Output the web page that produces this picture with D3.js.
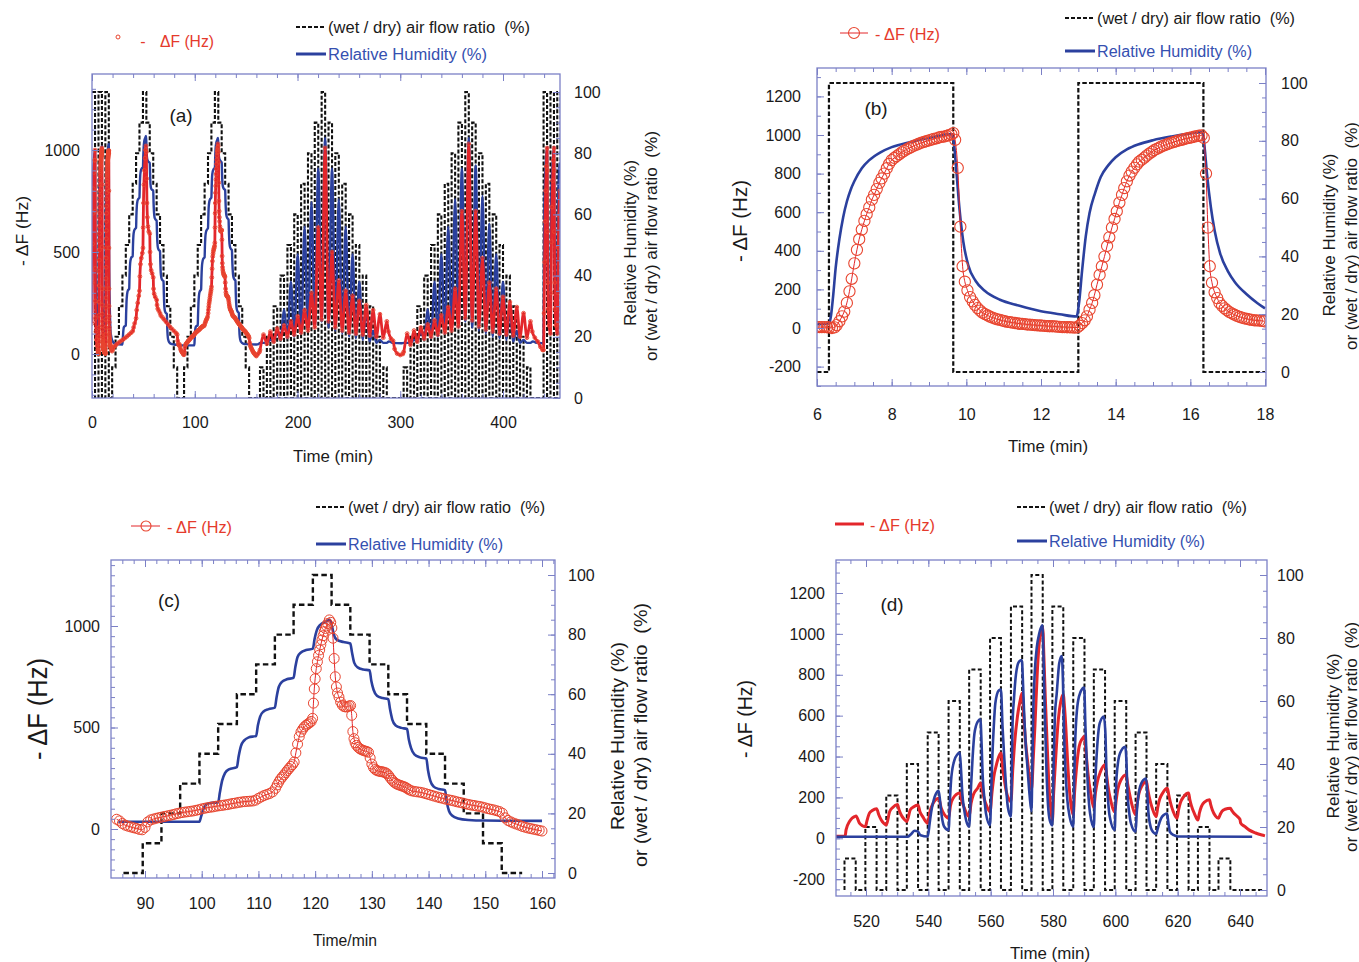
<!DOCTYPE html>
<html><head><meta charset="utf-8">
<script src="https://cdn.jsdelivr.net/npm/d3@7"></script>
<style>
body{margin:0;background:#fff;}
svg text{font-family:"Liberation Sans",Arial,sans-serif;}
</style></head><body>
<svg id="chart" width="1359" height="962"></svg>
<script>
// ===================== DATA =====================
// shared tick labels
const rightTicks = [0,20,40,60,80,100];
const xTicksA = [0,100,200,300,400];
const xTicksB = [6,8,10,12,14,16,18];
const xTicksC = [90,100,110,120,130,140,150,160];
const xTicksD = [520,540,560,580,600,620,640];
const yTicksA = [0,500,1000];
const yTicksB = [-200,0,200,400,600,800,1000,1200];
const yTicksC = [0,500,1000];
const yTicksD = [-200,0,200,400,600,800,1000,1200];

// pulse levels (wet/dry air flow ratio, %) used in pulse trains
const pulseLevels = [10,20,30,40,50,60,70,80,90,100,90,80,70,60,50,40,30,20,10];

// ---------- panel (b) ----------
const flowB_t = [6.0, 6.32, 9.65, 13.0, 16.35, 18.0];
const flowB_v = [0, 100, 0, 100, 0, 0];
const rhB = [[6.0,16.5],[6.33,16.8],[6.38,20],[6.43,26],[6.5,36],[6.6,46],[6.7,53.5],[6.8,59],[6.9,63],[7.0,66],[7.2,70.5],[7.4,73.3],[7.7,76],[8.0,77.8],[8.5,79.6],[9.0,81],[9.6,82.3],[9.66,80],[9.73,70],[9.82,56],[9.92,45],[10.05,37],[10.25,31.5],[10.5,28],[10.9,25],[11.4,23],[12.0,21],[12.5,20],[12.95,19.2],[13.02,24],[13.1,35],[13.2,47],[13.3,55],[13.45,62],[13.6,67.5],[13.8,71.5],[14.0,74.3],[14.3,77],[14.6,78.7],[15.0,80.2],[15.5,81.5],[16.0,82.5],[16.33,83],[16.38,78],[16.45,68],[16.55,57],[16.65,49],[16.8,41],[17.0,35],[17.2,31],[17.5,27],[17.8,23.8],[18.0,22]];
const dfB = [[6.0,5],[6.07,5],[6.13,5],[6.2,5],[6.27,4],[6.33,3],[6.4,0],[6.47,3],[6.53,15],[6.6,35],[6.67,60],[6.73,85],[6.8,130],[6.87,190],[6.93,255],[7.0,335],[7.07,405],[7.13,460],[7.2,510],[7.27,555],[7.33,590],[7.4,625],[7.47,665],[7.53,690],[7.6,720],[7.67,752],[7.73,775],[7.8,800],[7.87,828],[7.93,850],[8.0,870],[8.07,881],[8.13,890],[8.2,900],[8.27,910],[8.33,918],[8.4,925],[8.47,932],[8.53,938],[8.6,945],[8.67,950],[8.73,955],[8.8,960],[8.87,964],[8.93,968],[9.0,972],[9.07,976],[9.13,980],[9.2,983],[9.27,987],[9.33,990],[9.4,992],[9.47,995],[9.53,999],[9.6,1003],[9.65,1010],[9.7,975],[9.77,830],[9.84,525],[9.9,320],[9.96,240],[10.03,195],[10.1,160],[10.17,138],[10.23,120],[10.3,103],[10.37,90],[10.43,80],[10.5,72],[10.57,65],[10.63,59],[10.7,54],[10.77,49],[10.83,45],[10.9,42],[10.97,38],[11.03,35],[11.1,32],[11.17,30],[11.23,28],[11.3,26],[11.37,24],[11.43,22],[11.5,21],[11.57,20],[11.63,18],[11.7,17],[11.77,16],[11.83,15],[11.9,14],[11.97,13],[12.03,12],[12.1,11],[12.17,10],[12.23,9],[12.3,9],[12.37,8],[12.43,7],[12.5,6],[12.57,5],[12.63,5],[12.7,4],[12.77,4],[12.83,3],[12.9,2],[12.97,3],[13.03,12],[13.1,25],[13.17,40],[13.23,60],[13.3,95],[13.37,130],[13.43,170],[13.5,225],[13.57,275],[13.63,320],[13.7,370],[13.77,425],[13.83,470],[13.9,520],[13.97,565],[14.03,605],[14.1,650],[14.17,690],[14.23,725],[14.3,760],[14.37,790],[14.43,810],[14.5,830],[14.57,848],[14.63,862],[14.7,872],[14.77,883],[14.83,893],[14.9,903],[14.97,913],[15.03,921],[15.1,928],[15.17,935],[15.23,941],[15.3,946],[15.37,951],[15.43,956],[15.5,960],[15.57,964],[15.63,968],[15.7,972],[15.77,975],[15.83,979],[15.9,982],[15.97,985],[16.03,988],[16.1,991],[16.17,994],[16.23,996],[16.3,998],[16.36,985],[16.42,800],[16.47,520],[16.52,320],[16.58,235],[16.65,185],[16.72,155],[16.78,130],[16.85,115],[16.92,102],[16.98,92],[17.05,82],[17.12,75],[17.18,69],[17.25,63],[17.32,58],[17.38,54],[17.45,50],[17.52,47],[17.58,44],[17.65,42],[17.72,40],[17.78,39],[17.85,38],[17.92,37],[17.98,35]];

// ---------- panel (c) ----------
const flowC_t = [86.2,89.6,92.9,96.2,99.6,102.9,106.2,109.6,112.9,116.2,119.6,122.9,126.2,129.6,132.9,136.2,139.6,142.9,146.2,149.6,152.9,156.5];
const flowC_v = [0,10,20,30,40,50,60,70,80,90,100,90,80,70,60,50,40,30,20,10,0,0];
const rhC = [[85.3,17.2],[99.6,17.2],[99.9,19],[100.3,21.5],[100.8,23],[101.5,23.5],[102.9,23.7],[103.2,27],[103.6,31],[104.1,33.5],[104.8,34.8],[106.2,35.5],[106.5,39],[106.9,42.5],[107.5,44.5],[108.3,45.5],[109.6,46],[109.9,49.5],[110.3,52.5],[110.9,54.2],[111.8,55],[112.9,55.5],[113.2,59],[113.6,62.5],[114.2,64.2],[115,65],[116.2,65.5],[116.5,69],[116.9,72.5],[117.5,74],[118.4,74.8],[119.6,75.3],[119.9,78.5],[120.3,81.5],[120.9,83.3],[121.8,84.3],[122.6,85],[122.95,83],[123.3,80],[123.8,78.3],[125,77.5],[126.2,77],[126.5,74],[126.9,70.5],[127.5,69],[128.5,68.3],[129.6,68],[129.9,64.5],[130.3,61.5],[130.9,59.5],[131.9,58.7],[132.9,58.3],[133.2,55],[133.6,51.5],[134.2,49.5],[135.2,48.7],[136.2,48.3],[136.5,45],[136.9,42],[137.5,39.8],[138.5,38.8],[139.6,38.4],[139.9,34.5],[140.3,31],[140.9,29],[141.8,28.2],[142.9,27.8],[143.2,24],[143.6,20.8],[144.2,19.2],[145.2,18.3],[147,17.8],[150,17.6],[160,17.5]];
const dfC = [[85.0,48],[85.5,40],[86.0,27],[86.5,19],[87.0,14],[87.5,10],[88.0,6],[88.5,3],[89.0,-2],[89.5,-4],[90.0,8],[90.5,35],[91.0,45],[91.5,49],[92.0,53],[92.5,56],[93.0,59],[93.5,62],[94.0,65],[94.5,68],[95.0,71],[95.5,75],[96.0,78],[96.5,81],[97.0,83],[97.5,85],[98.0,87],[98.5,89],[99.0,92],[99.5,95],[100.0,99],[100.5,102],[101.0,105],[101.5,107],[102.0,109],[102.5,112],[103.0,114],[103.5,116],[104.0,118],[104.5,120],[105.0,123],[105.5,126],[106.0,128],[106.5,131],[107.0,133],[107.5,135],[108.0,136],[108.5,137],[109.0,138],[109.5,142],[110.0,151],[110.5,158],[111.0,165],[111.5,170],[112.0,175],[112.5,183],[113.0,200],[113.3,217],[113.6,232],[113.9,246],[114.2,256],[114.5,266],[114.8,277],[115.1,288],[115.4,298],[115.7,308],[116.0,317],[116.3,330],[116.6,375],[116.9,418],[117.2,455],[117.5,478],[117.8,492],[118.1,503],[118.4,511],[118.7,517],[119.0,523],[119.3,530],[119.55,545],[119.7,620],[119.85,690],[120.0,740],[120.2,790],[120.4,824],[120.6,855],[120.8,882],[121.0,908],[121.2,931],[121.4,952],[121.6,972],[121.8,988],[122.0,1000],[122.2,1012],[122.5,1030],[122.75,1018],[122.95,990],[123.15,940],[123.35,840],[123.55,750],[123.75,700],[123.95,670],[124.2,650],[124.5,625],[124.8,610],[125.1,603],[125.4,601],[125.7,602],[126.0,606],[126.25,608],[126.45,560],[126.65,480],[126.85,445],[127.05,425],[127.3,412],[127.6,402],[127.9,395],[128.2,390],[128.5,387],[128.8,384],[129.1,382],[129.4,378],[129.7,350],[130.0,320],[130.3,302],[130.6,293],[130.9,288],[131.2,285],[131.5,283],[131.8,282],[132.1,280],[132.4,277],[132.7,272],[133.0,262],[133.3,250],[133.6,240],[133.9,231],[134.2,225],[134.5,220],[134.8,217],[135.1,214],[135.4,211],[135.7,208],[136.0,204],[136.3,198],[136.6,193],[137.0,188],[137.5,185],[138.0,183],[138.5,181],[139.0,178],[139.5,174],[140.0,170],[140.5,166],[141.0,162],[141.5,158],[142.0,154],[142.5,151],[143.0,147],[143.5,144],[144.0,141],[144.5,138],[145.0,134],[145.5,131],[146.0,128],[146.5,124],[147.0,121],[147.5,118],[148.0,116],[148.5,113],[149.0,111],[149.5,108],[150.0,104],[150.5,100],[151.0,97],[151.5,94],[152.0,90],[152.5,86],[153.0,78],[153.5,55],[154.0,42],[154.5,35],[155.0,29],[155.5,24],[156.0,19],[156.5,13],[157.0,9],[157.5,5],[158.0,2],[158.5,-1],[159.0,-4],[159.5,-7],[160.0,-10]];

// ---------- panel (d) ----------
const pulseStartD = [513.1,519.8,526.5,533.1,539.8,546.5,553.1,559.8,566.5,573.1,579.8,586.5,593.1,599.8,606.5,613.1,619.8,626.5,633.1];
const pulseEndD = [516.7,523.4,530.1,536.7,543.3,550.1,556.8,563.3,570.1,576.7,583.3,590.1,596.7,603.5,610.0,616.7,623.5,630.2,636.9];
const flowEndD = 647.4;
const rhD = [[510.5,16.9],[533.3,16.9],[534.5,17.8],[535.6,18.8],[536.6,18.6],[537.5,17.4],[539.8,17.0],[540.4,21],[540.9,24.7],[541.7,28.5],[542.5,30.7],[543.3,31.5],[543.8,28],[544.3,23.5],[545.1,20.1],[546.5,19],[547.0,30],[547.4,36],[548.4,41.3],[549.3,43],[550.1,43.6],[550.5,38],[550.9,30.7],[551.5,25.5],[552.1,22.2],[553.1,20.1],[553.7,32.8],[554.2,42],[554.8,49.7],[555.8,53.4],[556.7,54.2],[557.1,46],[557.4,37],[558,29],[558.5,24.3],[559.8,20.6],[560.2,32],[560.5,41.3],[561,52],[561.5,59.3],[562.6,63.3],[563.3,63.6],[563.8,52],[564.4,41.3],[565,32],[565.5,26.4],[566.5,23.3],[566.8,40],[567.0,51.9],[567.5,61],[568.1,68.3],[569.1,72.5],[570.0,73],[570.4,65],[570.7,57],[571.2,47],[571.8,39],[572.5,30],[573.1,25],[573.4,42],[573.7,58],[574.2,70],[574.8,77],[575.6,81.5],[576.6,84],[577.0,72],[577.4,55],[577.9,38],[578.4,27],[579,22],[579.8,20.5],[580.2,40],[580.6,55],[581.2,62.4],[582,72],[582.8,74.3],[583.2,66],[583.5,51.8],[584,38],[584.6,28.6],[585.4,23],[586.5,20.1],[586.8,35],[587.1,46.6],[588.1,60.3],[589.5,64],[590.0,64.3],[590.4,52],[590.8,41.3],[591.3,31],[591.9,24.3],[593.1,20],[593.5,33],[593.9,41],[595,53],[596.3,55.1],[596.8,50],[597.2,36],[597.7,28],[598.2,23.3],[599.8,19],[600.1,28],[600.4,36],[601.5,43.4],[603.2,45.5],[603.6,40],[603.9,30.7],[604.4,25],[605,21.2],[606.5,18.5],[606.9,25],[607.5,30.7],[608.6,34.4],[609.9,35.4],[610.3,30],[610.6,24.7],[611.1,21],[611.7,19],[613.1,17.8],[613.6,19.5],[614.2,21.5],[615,23.3],[616.6,24.3],[617,21.5],[617.5,18.5],[618.8,17.4],[620,17],[643.9,16.9]];
const dfD = [[510.4,10],[513.3,10],[513.6,41],[514.7,82],[515.5,98],[516.3,106],[516.8,109],[517.9,74],[518.7,63],[519.8,57],[520.3,85],[521.1,123],[522,136],[523.4,145],[524.1,115],[524.9,90],[525.7,74],[526.5,65],[527.6,131],[528.5,150],[530.1,165],[530.6,140],[531.3,114],[532.2,94],[533.1,82],[534.2,139],[535.2,153],[536.7,163],[537.3,130],[538.2,106],[539,86],[539.8,74],[540.5,130],[541.5,170],[543.3,196],[544.1,150],[545.2,115],[546.5,98],[547.1,160],[547.9,195],[550.1,221],[550.7,185],[551.5,150],[552.3,120],[553.1,106],[553.7,170],[554.5,215],[555.8,245],[556.8,270],[557.4,230],[557.9,195],[558.8,155],[559.8,130],[560.4,220],[561.0,300],[561.7,351],[562.5,395],[563.3,417],[563.9,340],[564.4,286],[565.0,230],[565.7,195],[566.5,180],[567.1,340],[567.6,450],[568.6,597],[569.4,670],[570.1,711],[570.7,580],[571.2,470],[571.8,384],[572.5,290],[573.1,237],[573.7,400],[574.2,548],[575.0,826],[575.7,973],[576.2,1010],[576.7,1030],[577.1,880],[577.5,700],[578.2,430],[578.8,230],[579.3,140],[579.8,85],[580.2,220],[580.7,351],[581.7,580],[582.5,670],[583.3,703],[583.7,640],[584.1,548],[584.6,400],[585.2,253],[585.8,160],[586.5,114],[586.9,220],[587.3,302],[588.4,450],[589.3,485],[590.1,499],[590.6,420],[591.2,320],[592.2,210],[593.1,150],[593.6,220],[594.2,275],[595.2,325],[596.7,360],[597.2,310],[597.6,260],[598.6,180],[599.8,130],[600.3,190],[600.8,240],[601.8,285],[603.5,311],[603.9,270],[604.4,230],[605.4,160],[606.5,115],[607,170],[607.5,215],[608.5,255],[610,278],[610.4,240],[610.9,200],[611.9,145],[613.1,106],[613.6,150],[614.2,190],[615.2,222],[616.7,245],[617.1,215],[617.6,180],[618.6,130],[619.8,98],[620.3,140],[620.9,175],[621.9,203],[623.5,221],[623.9,190],[624.4,160],[625.4,120],[626.5,90],[627,125],[627.6,155],[628.6,177],[630.2,188],[630.6,165],[631.1,140],[632.1,110],[633.1,98],[633.6,115],[634.2,132],[635.2,142],[636.9,147],[637.4,135],[637.9,125],[638.9,110],[640,92],[640.2,75],[641.5,58],[643,40],[645,26],[647,16],[648,12]];

// ---------- panel (a) ----------
const flowA0_t = [0, 2.95, 6.32, 9.65, 13.0, 16.35];
const flowA0_v = [100, 0, 100, 0, 100, 0];
const flowA1_t = [19.6,22.9,26.2,29.6,32.9,36.2,39.6,42.9,46.2,49.6,52.9,56.2,59.6,62.9,66.2,69.6,72.9,76.2,79.6,82.9];
const flowA1_v = [10,20,30,40,50,60,70,80,90,100,90,80,70,60,50,40,30,20,10,0];
const pulseStartA2 = [163.5,170.2,176.8,183.5,190.2,196.8,203.5,210.2,216.8,223.5,230.2,236.8,243.5,250.2,256.8,263.5,270.2,276.8,283.5];
const pulseEndA2 = [166.9,173.6,180.2,186.9,193.6,200.2,206.9,213.6,220.2,226.9,233.6,240.2,246.9,253.6,260.2,266.9,273.6,280.2,286.9];
const pulseStartA3 = [303.3,310.0,316.6,323.3,330.0,336.6,343.3,350.0,356.6,363.3,370.0,376.6,383.3,390.0,396.6,403.3,410.0,416.6,423.3];
const pulseEndA3 = [306.7,313.4,320.0,326.7,333.4,340.0,346.7,353.4,360.0,366.7,373.4,380.0,386.7,393.4,400.0,406.7,413.4,420.0,426.7];
const pulseStartA4 = [439.5,446.2,452.8];
const pulseEndA4 = [442.9,449.6,456.2];
const pulseLevelsA4 = [100,100,100];
const flowEndA = 455.5;

const rhA0 = [[0,28],[0.3,52],[0.7,66],[1.2,73],[2.0,78.5],[2.95,81],[3.05,74],[3.2,58],[3.4,45],[3.7,36],[4.1,29],[4.6,24],[5.3,20],[5.9,17]];
const dfA0 = [[0,150],[0.3,350],[0.6,540],[0.9,690],[1.3,810],[1.8,890],[2.4,950],[2.95,1000],[3.05,950],[3.15,700],[3.25,420],[3.35,260],[3.5,175],[3.8,110],[4.2,70],[4.8,40],[5.4,20],[5.9,8]];
const rhA1 = [[18.5,20.5],[19.2,19.3],[20,18.6],[21.5,17.9],[29.6,17.5],[30.0,19.5],[30.5,22],[31.2,23.3],[32.9,23.7],[33.2,27.5],[33.6,31.5],[34.2,34],[35,35.2],[36.2,35.6],[36.5,39.5],[36.9,43],[37.5,45],[38.4,46],[39.6,46.3],[39.9,50],[40.3,53],[40.9,54.5],[41.8,55.2],[42.9,55.6],[43.2,59.5],[43.6,62.5],[44.2,64.3],[45,65],[46.2,65.5],[46.5,69.5],[46.9,72.5],[47.5,74.2],[48.4,75],[49.6,75.4],[49.9,79],[50.3,82],[50.9,84],[51.8,85],[52.6,85.6],[52.95,83],[53.3,79.5],[53.8,78],[55,77.2],[56.2,76.8],[56.5,73.5],[56.9,70],[57.5,68.5],[58.5,68],[59.6,67.8],[59.9,64],[60.3,61],[60.9,59],[61.9,58.3],[62.9,58],[63.2,54.5],[63.6,51],[64.2,49],[65.2,48.3],[66.2,48],[66.5,44.5],[66.9,41],[67.5,39.3],[68.5,38.5],[69.6,38.2],[69.9,34.5],[70.3,30.5],[70.9,28.5],[71.8,27.8],[72.9,27.5],[73.2,23.5],[73.6,20.5],[74.2,19],[75.2,18.2],[77,17.7],[80,17.5],[85,17.3]];
const dfA1 = [[18.1,33],[18.5,25],[19.0,18],[19.6,14],[20.2,22],[21,32],[22.5,40],[24,48],[26,56],[28,63],[30,70],[32,78],[34,86],[36,95],[38,104],[39.6,112],[40.5,130],[41.5,150],[42.9,175],[43.5,215],[44.5,250],[45.5,285],[46.2,310],[46.6,380],[47.2,440],[48,470],[49,495],[49.6,520],[49.8,620],[50.1,740],[50.5,830],[51,900],[51.6,960],[52.1,1000],[52.6,1020],[52.9,990],[53.2,860],[53.5,740],[53.9,670],[54.5,625],[55.3,600],[56.2,590],[56.5,500],[56.9,440],[57.6,410],[58.5,395],[59.6,375],[59.9,320],[60.5,295],[61.5,280],[62.9,265],[63.3,240],[64,222],[65,212],[66.2,200],[67,188],[68.5,180],[70,170],[72,158],[74,145],[76,133],[78,122],[80,112],[82,102],[82.9,95],[83.4,65],[84,48],[84.6,42]];
const dfGapA1 = [[161.5,0],[163.0,10]];
const troughDfA2 = [20,50,60,75,85,95,105,115,130,170,160,130,115,105,100,95,90,85,80];
const peakDfA2 = [95,110,125,140,160,185,215,300,620,1010,500,360,310,285,260,240,215,195,160];
const dfGapA2 = [[288.5,110],[291,75],[293,65],[294.5,25],[297,2],[300,-5],[302.5,0]];
const troughDfA3 = [10,45,60,75,85,95,105,115,135,175,165,135,120,110,100,95,90,85,80];
const peakDfA3 = [100,115,130,145,165,190,230,320,700,1030,700,470,350,320,280,255,230,200,160];
const dfGapA3 = [[428.5,110],[431,80],[434,60],[436.5,35],[438.5,20]];
const dfA4 = [[439.5,20],[440,200],[440.5,450],[441,650],[441.5,800],[442.2,920],[442.9,1010],[443.1,900],[443.3,600],[443.6,350],[444,220],[444.8,140],[446.2,100],[446.7,300],[447.2,550],[447.7,720],[448.3,850],[449,950],[449.6,1010],[449.8,900],[450,600],[450.3,350],[450.7,220],[451.5,140],[452.8,100],[453.3,300],[453.8,520],[454.3,680],[455.4,800]];
const rhGapA1 = [[162,17.6]];
const troughRhA2 = [18,18,18.5,19,19.5,20,21,22,23,25,23,22,21,20,19.5,19,18.5,18,18];
const peakRhA2 = [18,19,22,29,38,47,56,64,75,85,75,65,56,47,38,29,22,19,18];
const rhGapA2 = [[289,18.5],[293,18],[301,17.9]];
const troughRhA3 = [18,18,18.5,19,19.5,20,21,22,23,25,23,22,21,20,19.5,19,18.5,18,18];
const peakRhA3 = [18,19,22,29,38,47,56,65,75,85,76,66,57,47,38,29,22,19,18];
const rhGapA3 = [[429,18.5],[433,18],[439.3,17.9]];
const rhA4 = [[439.5,17.9],[439.8,40],[440.2,60],[440.8,70],[441.8,78],[442.9,82],[443.2,65],[443.6,45],[444.2,32],[445,25],[446.2,21],[446.5,45],[446.9,62],[447.5,71],[448.5,78],[449.6,82],[449.9,65],[450.3,45],[450.9,32],[451.7,25],[452.8,21],[453.1,45],[453.5,62],[454.1,71],[455.4,77]];

// ===================== DRAWING =====================
const RED = "#e3262b", REDC = "#e8452f", BLUE = "#2b409e", BOX = "#7b80c6";
const svg = d3.select("#chart");
const fmt = d => String(d);

function zipTV(t, v){ return t.map((d,i)=>[d, v[i]]); }
function pulsePts(st, en, lv){ const p=[]; st.forEach((s,i)=>{ p.push([s,lv[i]]); p.push([en[i],0]); }); return p; }
function sawPts(st, en, lo, hi){ const p=[]; st.forEach((s,i)=>{ p.push([s,lo[i]]); p.push([en[i],hi[i]]); }); return p; }
function stepRange(a,b,step){ const out=[]; const n0=Math.ceil(a/step-1e-9), n1=Math.floor(b/step+1e-9); for(let i=n0;i<=n1;i++) out.push(+(i*step).toFixed(6)); return out; }

function makePanel(p){
  const [L,T,R,B] = p.box;
  const x = d3.scaleLinear().domain(p.xd).range(p.xr);
  const yl = d3.scaleLinear().domain(p.yld).range(p.ylr);
  const yr = d3.scaleLinear().domain([0,100]).range(p.yrr);
  const id = "clip"+p.name;
  svg.append("clipPath").attr("id",id).append("rect").attr("x",L).attr("y",T).attr("width",R-L).attr("height",B-T);
  const g = svg.append("g");
  const plot = g.append("g").attr("clip-path",`url(#${id})`);
  const xMinor = stepRange(x.invert(L), x.invert(R), p.xMinor);
  const ylMinor = stepRange(yl.invert(B), yl.invert(T), p.ylMinor);
  const yrMinor = stepRange(yr.invert(B), Math.min(100,yr.invert(T)), 5);
  const ax = g.append("g");
  function styleAx(s){ s.select(".domain").remove(); s.selectAll("line").attr("stroke",BOX).attr("stroke-width",1); s.selectAll("text").attr("fill","#1a1a1a").style("font-size","16px"); }
  ax.append("g").attr("transform",`translate(0,${B})`).call(d3.axisBottom(x).tickValues(xMinor).tickSize(-4).tickFormat("")).call(styleAx);
  ax.append("g").attr("transform",`translate(0,${B})`).call(d3.axisBottom(x).tickValues(p.xMajor).tickSize(-7).tickPadding(p.padB).tickFormat(fmt)).call(styleAx);
  ax.append("g").attr("transform",`translate(0,${T})`).call(d3.axisTop(x).tickValues(xMinor).tickSize(-4).tickFormat("")).call(styleAx);
  ax.append("g").attr("transform",`translate(0,${T})`).call(d3.axisTop(x).tickValues(p.xMajor).tickSize(-7).tickFormat("")).call(styleAx);
  ax.append("g").attr("transform",`translate(${L},0)`).call(d3.axisLeft(yl).tickValues(ylMinor).tickSize(-4).tickFormat("")).call(styleAx);
  ax.append("g").attr("transform",`translate(${L},0)`).call(d3.axisLeft(yl).tickValues(p.ylMajor).tickSize(-7).tickPadding(p.padL).tickFormat(fmt)).call(styleAx);
  ax.append("g").attr("transform",`translate(${R},0)`).call(d3.axisRight(yr).tickValues(yrMinor).tickSize(-4).tickFormat("")).call(styleAx);
  ax.append("g").attr("transform",`translate(${R},0)`).call(d3.axisRight(yr).tickValues(rightTicks).tickSize(-7).tickPadding(p.padR).tickFormat(fmt)).call(styleAx);
  g.append("rect").attr("x",L).attr("y",T).attr("width",R-L).attr("height",B-T).attr("fill","none").attr("stroke",BOX).attr("stroke-width",1.3);
  return {g, plot, x, yl, yr};
}

function txt(x,y,s,o={}){
  const t = svg.append("text").attr("x",x).attr("y",y).text(s)
    .attr("fill",o.fill||"#1a1a1a").style("font-size",(o.size||15)+"px")
    .attr("text-anchor",o.anchor||"start").attr("dominant-baseline","central").style("white-space","pre");
  if(o.len) t.attr("textLength",o.len).attr("lengthAdjust","spacingAndGlyphs");
  if(o.rot) t.attr("transform",`rotate(-90,${x},${y})`);
  return t;
}

function drawFlow(P, pts, w, dash){
  P.plot.append("path").datum(pts).attr("fill","none").attr("stroke","#111").attr("stroke-width",w).attr("stroke-dasharray",dash)
    .attr("d", d3.line().x(d=>P.x(d[0])).y(d=>P.yr(d[1])).curve(d3.curveStepAfter));
}
function drawRH(P, pts, w){
  P.plot.append("path").datum(pts).attr("fill","none").attr("stroke",BLUE).attr("stroke-width",w).attr("stroke-linejoin","round")
    .attr("d", d3.line().x(d=>P.x(d[0])).y(d=>P.yr(d[1])).curve(d3.curveMonotoneX));
}
function drawDF(P, pts, w, r, cw){
  P.plot.append("path").datum(pts).attr("fill","none").attr("stroke",RED).attr("stroke-width",w).attr("stroke-linejoin","round")
    .attr("d", d3.line().x(d=>P.x(d[0])).y(d=>P.yl(d[1])).curve(d3.curveMonotoneX));
  if(r>0){
    P.plot.append("g").selectAll("circle").data(pts).join("circle")
      .attr("cx",d=>P.x(d[0])).attr("cy",d=>P.yl(d[1])).attr("r",r)
      .attr("fill","none").attr("stroke",REDC).attr("stroke-width",cw);
  }
}
function legend(o){
  svg.append("line").attr("x1",o.fx).attr("x2",o.fx+30).attr("y1",o.fy).attr("y2",o.fy).attr("stroke","#111").attr("stroke-width",2).attr("stroke-dasharray","4,2");
  txt(o.fx+32,o.fy,"(wet / dry) air flow ratio  (%)",{len:o.fl,size:16});
  svg.append("line").attr("x1",o.fx).attr("x2",o.fx+30).attr("y1",o.by).attr("y2",o.by).attr("stroke",BLUE).attr("stroke-width",3);
  txt(o.fx+32,o.by,"Relative Humidity (%)",{len:o.bl,size:16,fill:"#3550b0"});
}

// ---------- Panel (a) ----------
const A = makePanel({name:"a", box:[92,74,560,398], xd:[0,400], xr:[92,503], yld:[0,1000], ylr:[354,150], yrr:[398,92],
  xMajor:xTicksA, xMinor:20, ylMajor:yTicksA, ylMinor:100, padB:18.5, padL:12, padR:14});
const flowA = [].concat(zipTV(flowA0_t,flowA0_v), zipTV(flowA1_t,flowA1_v), zipTV(flowC_t,flowC_v),
  pulsePts(pulseStartA2,pulseEndA2,pulseLevels), pulsePts(pulseStartA3,pulseEndA3,pulseLevels),
  pulsePts(pulseStartA4,pulseEndA4,pulseLevelsA4), [[flowEndA,0]]);
drawFlow(A, flowA, 2.1, "4,2");
const rhA = [].concat(rhA0, rhB, rhA1, rhC, rhGapA1, sawPts(pulseStartA2,pulseEndA2,troughRhA2,peakRhA2), rhGapA2,
  sawPts(pulseStartA3,pulseEndA3,troughRhA3,peakRhA3), rhGapA3, rhA4);
drawRH(A, rhA, 2.4);
const dfA = [].concat(dfA0, dfB, dfA1, dfC, dfGapA1, sawPts(pulseStartA2,pulseEndA2,troughDfA2,peakDfA2), dfGapA2,
  sawPts(pulseStartA3,pulseEndA3,troughDfA3,peakDfA3), dfGapA3, dfA4);
drawDF(A, dfA, 2.8, 1.9, 0.9);
txt(181,115,"(a)",{size:19,anchor:"middle"});
txt(22,231,"- ΔF (Hz)",{size:16,rot:true,anchor:"middle",len:70});
txt(630,243,"Relative Humidity (%)",{size:17,rot:true,anchor:"middle",len:166});
txt(651,246,"or (wet / dry) air flow ratio  (%)",{size:17,rot:true,anchor:"middle",len:230});
txt(333,456,"Time (min)",{size:16,anchor:"middle",len:80});
svg.append("circle").attr("cx",118).attr("cy",37).attr("r",2).attr("fill","none").attr("stroke",REDC).attr("stroke-width",1);
txt(143,41,"-",{size:16,fill:"#e53a2c",anchor:"middle"});
txt(160,41,"ΔF (Hz)",{size:16,fill:"#e53a2c",len:54});
legend({fx:296, fy:27, by:54, fl:202, bl:159});

// ---------- Panel (b) ----------
const Bp = makePanel({name:"b", box:[817,68,1266,386], xd:[6,18], xr:[817,1265], yld:[0,1000], ylr:[328,135], yrr:[372,83],
  xMajor:xTicksB, xMinor:0.5, ylMajor:yTicksB, ylMinor:100, padB:22.5, padL:16, padR:15});
drawFlow(Bp, zipTV(flowB_t,flowB_v), 2.2, "4.5,2.2");
drawRH(Bp, rhB, 2.6);
drawDF(Bp, dfB, 1, 5.6, 1.1);
txt(876,108,"(b)",{size:19,anchor:"middle"});
txt(740,221,"- ΔF (Hz)",{size:20,rot:true,anchor:"middle",len:82});
txt(1329,235,"Relative Humidity (%)",{size:17,rot:true,anchor:"middle",len:163});
txt(1351,236,"or (wet / dry) air flow ratio  (%)",{size:17,rot:true,anchor:"middle",len:228});
txt(1048,446,"Time (min)",{size:16,anchor:"middle",len:80});
svg.append("line").attr("x1",840).attr("x2",868).attr("y1",33).attr("y2",33).attr("stroke",RED).attr("stroke-width",1);
svg.append("circle").attr("cx",854).attr("cy",33).attr("r",5.5).attr("fill","none").attr("stroke",REDC).attr("stroke-width",1.1);
txt(875,34,"- ΔF (Hz)",{size:16,fill:"#e53a2c",len:65});
legend({fx:1065, fy:18, by:51, fl:198, bl:155});

// ---------- Panel (c) ----------
const Cp = makePanel({name:"c", box:[111,560,555,878], xd:[90,160], xr:[145,542], yld:[0,1000], ylr:[829,626], yrr:[873,575],
  xMajor:xTicksC, xMinor:2, ylMajor:yTicksC, ylMinor:50, padB:19.5, padL:11, padR:13});
drawFlow(Cp, zipTV(flowC_t,flowC_v), 2.4, "5.5,3.2");
drawRH(Cp, rhC, 2.6);
drawDF(Cp, dfC, 1, 5, 1);
txt(169,600,"(c)",{size:19,anchor:"middle"});
txt(38,709,"- ΔF (Hz)",{size:27,rot:true,anchor:"middle",len:102});
txt(617,736,"Relative Humidity (%)",{size:19,rot:true,anchor:"middle",len:188});
txt(640,735,"or (wet / dry) air flow ratio  (%)",{size:19,rot:true,anchor:"middle",len:264});
txt(345,940,"Time/min",{size:16,anchor:"middle",len:64});
svg.append("line").attr("x1",131).attr("x2",160).attr("y1",526).attr("y2",526).attr("stroke",RED).attr("stroke-width",1);
svg.append("circle").attr("cx",146).attr("cy",526).attr("r",5).attr("fill","none").attr("stroke",REDC).attr("stroke-width",1.1);
txt(167,527,"- ΔF (Hz)",{size:16,fill:"#e53a2c",len:65});
legend({fx:316, fy:507, by:544, fl:197, bl:155});

// ---------- Panel (d) ----------
const Dp = makePanel({name:"d", box:[836,560,1267,896], xd:[520,640], xr:[866,1240], yld:[0,1200], ylr:[838.3,593], yrr:[890,575],
  xMajor:xTicksD, xMinor:5, ylMajor:yTicksD, ylMinor:50, padB:19.5, padL:11, padR:10});
drawFlow(Dp, [].concat([[pulseStartD[0],0]], pulsePts(pulseStartD,pulseEndD,pulseLevels), [[flowEndD,0]]), 2, "4,2.4");
drawDF(Dp, dfD, 3, 0, 0);
drawRH(Dp, rhD, 2.6);
txt(892,604,"(d)",{size:19,anchor:"middle"});
txt(745,719,"- ΔF (Hz)",{size:20,rot:true,anchor:"middle",len:78});
txt(1333,736,"Relative Humidity (%)",{size:17,rot:true,anchor:"middle",len:165});
txt(1351,737,"or (wet / dry) air flow ratio  (%)",{size:17,rot:true,anchor:"middle",len:230});
txt(1050,953,"Time (min)",{size:16,anchor:"middle",len:80});
svg.append("line").attr("x1",835).attr("x2",864).attr("y1",524).attr("y2",524).attr("stroke",RED).attr("stroke-width",3);
txt(870,525,"- ΔF (Hz)",{size:16,fill:"#e53a2c",len:65});
legend({fx:1017, fy:507, by:541, fl:198, bl:156});
</script>
</body></html>
